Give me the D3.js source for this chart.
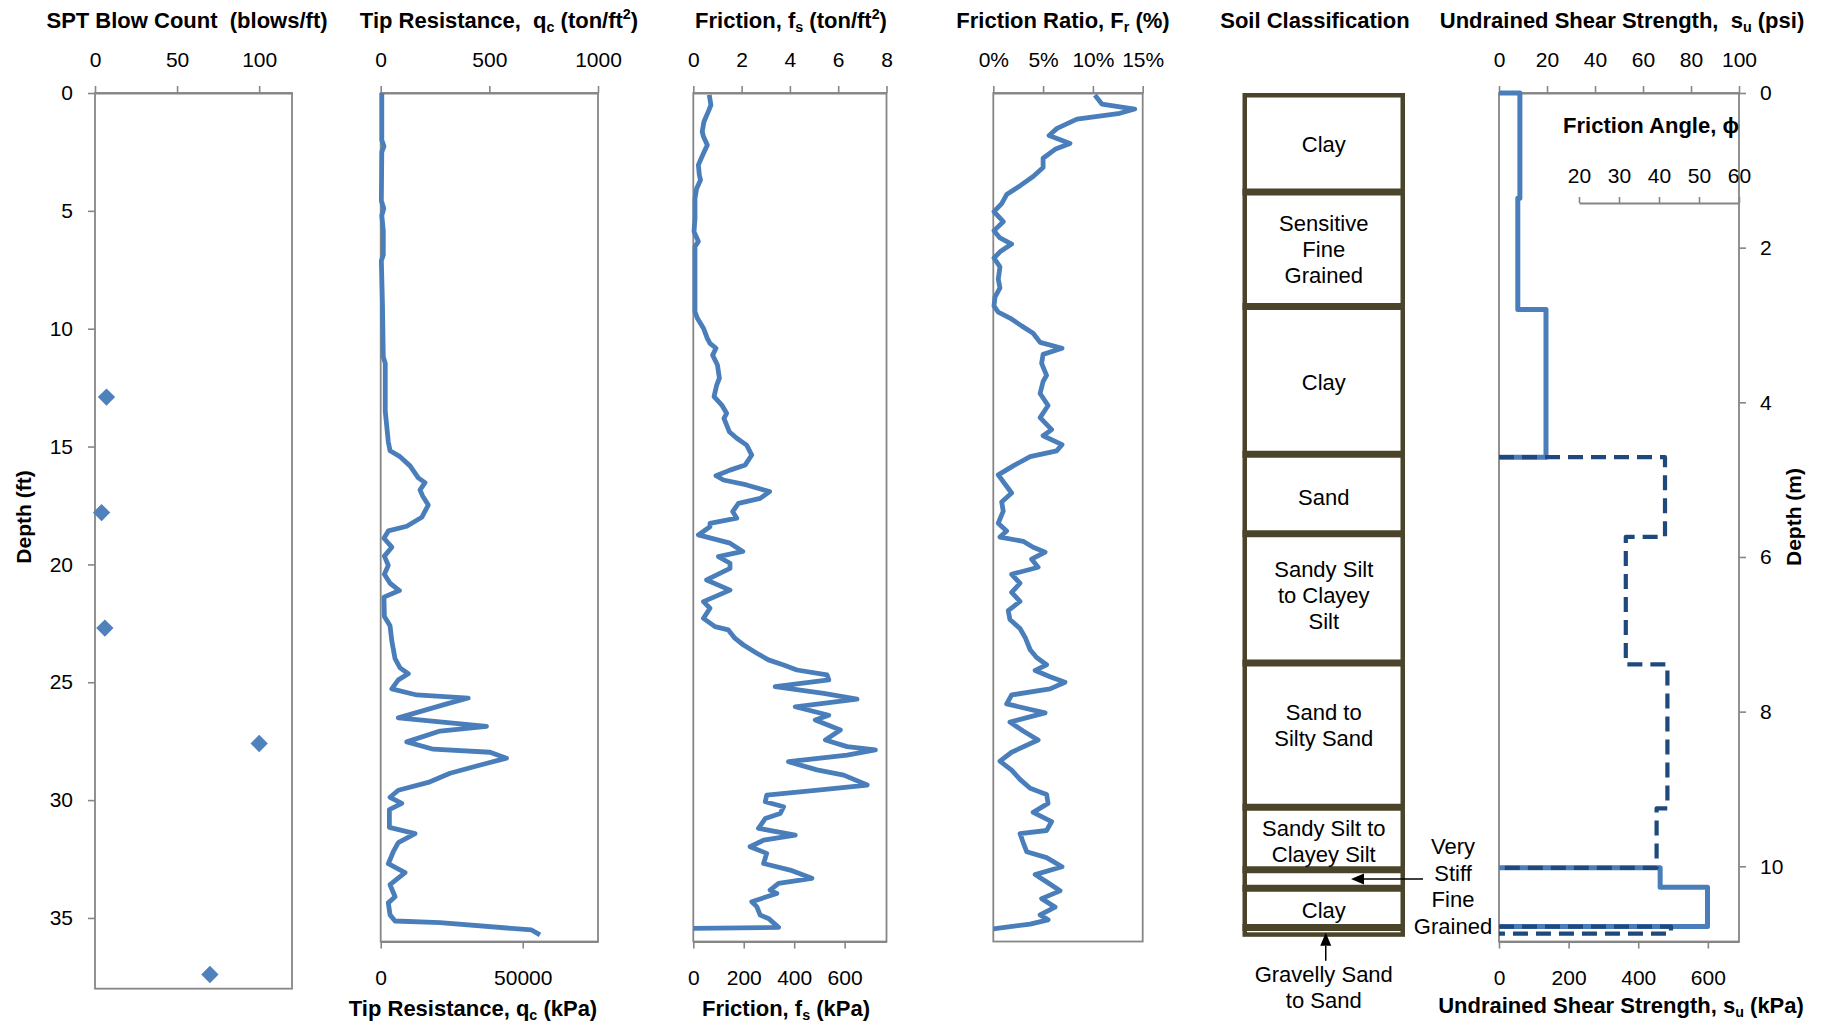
<!DOCTYPE html>
<html>
<head>
<meta charset="utf-8">
<script src="https://cdnjs.cloudflare.com/ajax/libs/d3/7.8.5/d3.min.js"></script>
<style>
  body { margin: 0; background: #fff; }
  svg text { font-family: "Liberation Sans", Arial, sans-serif; fill: #000; white-space: pre; }
</style>
</head>
<body>
<svg id="chart" width="1830" height="1025"></svg>
<script>
// ---- data (depths in ft unless noted) ----
const sptDepth = [12.9, 17.8, 22.7, 27.6, 37.4];
const sptBlows = [7, 4, 6, 100, 70];

const tipDepth = [0, 2.0, 2.26, 2.5, 4.57, 4.9, 5.2, 5.84, 6.87, 7.12, 8.91, 11.2, 11.47, 13.5, 14.8, 15.18,
  15.43, 15.82, 16.33, 16.53, 16.84, 17.1, 17.48, 18.0, 18.38, 18.58, 18.89, 19.27, 19.65, 20.04, 20.42,
  20.8, 21.11, 21.39, 22.21, 22.6, 23.24, 24.0, 24.39, 24.64, 24.9, 25.28, 25.54, 25.67, 25.92, 26.51,
  26.87, 27.07, 27.53, 27.84, 27.97, 28.22, 28.48, 28.86, 29.25, 29.58, 29.88, 30.14, 30.4, 31.16, 31.42,
  31.8, 32.19, 32.7, 33.08, 33.59, 34.1, 34.36, 34.87, 35.13, 35.2, 35.51, 35.72];
const tipTsf = [5, 5, 15, 5, 3, 14, 5, 12, 12, 3, 8, 12, 21, 21, 35, 43,
  89, 135, 173, 204, 181, 193, 219, 189, 120, 35, 15, 51, 17, 35, 17,
  43, 86, 15, 17, 43, 51, 66, 89, 127, 81, 51, 166, 403, 304, 81,
  487, 273, 120, 242, 503, 579, 472, 319, 219, 81, 43, 97, 40, 40, 158,
  81, 58, 35, 112, 43, 66, 35, 43, 66, 273, 694, 733];

const fricDepth = [0.08, 0.51, 0.79, 1.22, 1.64, 1.85, 2.21, 2.63, 3.05, 3.48, 3.69, 4.05, 4.47, 5.32, 5.88,
  6.3, 6.52, 7.0, 8.15, 9.28, 9.56, 9.98, 10.41, 10.62, 10.83, 11.12, 11.54, 12.1, 12.39, 12.88, 13.24,
  13.59, 13.8, 14.37, 14.65, 14.94, 15.36, 15.78, 16.0, 16.24, 16.42, 16.63, 16.91, 17.2, 17.41, 17.76,
  18.04, 18.26, 18.4, 18.75, 19.1, 19.45, 19.67, 19.95, 20.17, 20.66, 21.09, 21.58, 21.86, 22.29, 22.64,
  22.78, 23.14, 23.42, 23.77, 24.05, 24.27, 24.48, 24.69, 24.9, 25.19, 25.47, 25.72, 26.04, 26.4, 26.6,
  27.03, 27.45, 27.73, 27.87, 28.09, 28.37, 28.72, 28.94, 29.36, 29.57, 29.79, 30.07, 30.28, 30.57, 30.78,
  31.2, 31.49, 31.7, 31.98, 32.26, 32.69, 32.97, 33.32, 33.53, 33.82, 33.96, 34.31, 34.52, 34.88, 35.02,
  35.4, 35.44];
const fricTsf = [0.66, 0.73, 0.62, 0.44, 0.37, 0.42, 0.58, 0.39, 0.21, 0.25, 0.30, 0.14, 0.07, 0.07, 0.03,
  0.21, 0.07, 0.07, 0.07, 0.07, 0.17, 0.42, 0.58, 0.69, 0.94, 0.80, 1.00, 1.08, 0.97, 0.86, 1.18,
  1.38, 1.27, 1.49, 1.80, 2.21, 2.42, 2.15, 1.52, 0.94, 1.25, 2.21, 3.16, 2.77, 1.87, 1.63,
  1.80, 0.69, 0.69, 0.21, 1.52, 2.05, 1.04, 1.52, 1.52, 0.55, 1.52, 0.42, 0.69, 0.42, 0.90,
  1.45, 1.73, 2.08, 2.63, 3.11, 3.74, 4.29, 5.54, 5.61, 3.39, 5.40, 6.78, 4.22, 5.61, 5.05,
  6.09, 5.47, 6.37, 7.54, 6.37, 3.94, 5.12, 6.23, 7.20, 5.26, 3.04, 2.98, 3.74, 3.60, 2.98,
  2.70, 4.22, 2.91, 2.35, 3.04, 2.91, 4.01, 4.91, 3.53, 3.18, 3.46, 2.42, 2.63, 2.77, 3.11,
  3.53, 0];

const ratioDepth = [0.09, 0.47, 0.68, 0.86, 1.11, 1.5, 1.8, 2.14, 2.39, 2.77, 3.16, 3.54, 3.93, 4.31, 4.69,
  5.03, 5.46, 5.84, 6.15, 6.41, 6.74, 7.0, 7.38, 7.9, 8.27, 8.66, 9.04, 9.3, 9.55, 9.88, 10.19, 10.58,
  10.83, 11.09, 11.47, 11.98, 12.24, 12.75, 13.26, 13.77, 14.28, 14.54, 14.92, 15.18, 15.43, 15.82, 16.2,
  16.59, 16.97, 17.35, 17.74, 18.25, 18.58, 18.84, 19.02, 19.27, 19.48, 19.78, 20.12, 20.42, 20.8, 21.19,
  21.57, 21.96, 22.34, 22.72, 23.1, 23.62, 23.95, 24.26, 24.5, 24.77, 25.0, 25.28, 25.54, 25.92, 26.3,
  26.69, 27.07, 27.45, 27.97, 28.35, 28.73, 29.12, 29.5, 29.76, 30.14, 30.52, 30.91, 31.29, 31.42, 31.8,
  32.19, 32.44, 32.83, 33.16, 33.47, 33.85, 34.18, 34.54, 34.87, 35.08, 35.26, 35.46];
const ratioPct = [10.2, 10.9, 14.2, 12.7, 8.4, 6.4, 5.6, 7.7, 6.2, 5.0, 5.0, 4.0, 2.7, 1.34, 0.84,
  0.07, 1.0, 0.07, 0.67, 1.84, 0.67, 0.07, 0.67, 0.5, 0.67, 0.17, 0.07, 0.5, 1.67, 2.84, 4.0, 4.7,
  6.9, 5.0, 4.85, 5.35, 5.0, 4.7, 5.5, 4.7, 5.86, 5.0, 6.9, 6.36, 3.7, 2.0, 0.5,
  1.17, 1.84, 0.84, 1.0, 0.5, 1.34, 0.67, 3.0, 4.0, 5.2, 3.85, 4.5, 1.84, 2.68, 1.84,
  2.68, 1.5, 1.67, 2.68, 3.2, 3.7, 4.35, 5.35, 4.2, 5.7, 7.2, 5.7, 1.84, 1.34, 5.2,
  1.67, 3.0, 4.5, 1.84, 0.67, 1.84, 2.68, 3.7, 5.35, 5.5, 4.0, 5.86, 5.35, 2.68, 3.0,
  3.35, 5.35, 6.9, 4.2, 5.35, 6.7, 4.85, 6.2, 4.7, 5.5, 3.7, 0];

const soilTop = [0, 4.2, 9.06, 15.33, 18.7, 24.18, 30.3, 32.95, 33.74, 35.4];
const soilBottom = [4.2, 9.06, 15.33, 18.7, 24.18, 30.3, 32.95, 33.74, 35.4, 35.8];
const soilLabels = [['Clay'], ['Sensitive', 'Fine', 'Grained'], ['Clay'], ['Sand'],
  ['Sandy Silt', 'to Clayey', 'Silt'], ['Sand to', 'Silty Sand'], ['Sandy Silt to', 'Clayey Silt'], [], ['Clay'], []];
const veryStiffLabel = ['Very', 'Stiff', 'Fine', 'Grained'];
const gravellyLabel = ['Gravelly Sand', 'to Sand'];

// undrained shear strength (depth in m, su in kPa)
const suDepthUpper = [0, 0, 1.36, 1.36, 2.80, 2.80, 4.71, 4.71];
const suKpaUpper = [0, 60, 60, 54, 54, 135, 135, 0];
const suDepthLower = [10.02, 10.02, 10.27, 10.27, 10.78, 10.78];
const suKpaLower = [0, 463, 463, 599, 599, 0];
// friction angle (depth in m, degrees)
const phiDepthUpper = [4.71, 4.71, 5.74, 5.74, 7.39, 7.39, 9.25, 9.25, 10.02, 10.02];
const phiDegUpper = [0, 41.5, 41.5, 31.7, 31.7, 42.1, 42.1, 39.4, 39.4, 0];
const phiDepthLower = [10.78, 10.78, 10.87, 10.87];
const phiDegLower = [0, 43, 43, 0];

const depthTicksFt = [0, 5, 10, 15, 20, 25, 30, 35];
const depthTicksM = [0, 2, 4, 6, 8, 10];

// ---- layout ----
const AXIS_GREY = '#868686';
const LINE_BLUE = '#4A7EBB';
const DASH_BLUE = '#1F497D';
const SOIL_EDGE = '#4A452A';
const TOP = 93;
const PX_PER_FT = 23.57;
const CURVE_W = 4.8;

const svg = d3.select('#chart');

const yFt = d3.scaleLinear().domain([0, 36]).range([TOP, TOP + 36 * PX_PER_FT]);
const ySpt = d3.scaleLinear().domain([0, 38]).range([TOP, TOP + 38 * PX_PER_FT]);
const yM = d3.scaleLinear().domain([0, 36 * 0.3048]).range(yFt.range());
const BOTTOM = yFt.range()[1];

const xSpt = d3.scaleLinear().domain([0, 120]).range([95, 292]);
const xTip = d3.scaleLinear().domain([0, 1000]).range([380.7, 598]);
const xTipKpa = d3.scaleLinear().domain([0, 76500]).range(xTip.range());
const xFric = d3.scaleLinear().domain([0, 8]).range([693.3, 886.5]);
const xFricKpa = d3.scaleLinear().domain([0, 766]).range(xFric.range());
const xRatio = d3.scaleLinear().domain([0, 15]).range([993.3, 1142.7]);
const soilX = [1242.5, 1405];
const xSuPsi = d3.scaleLinear().domain([0, 100]).range([1499, 1739]);
const xSuKpa = d3.scaleLinear().domain([0, 689.5]).range(xSuPsi.range());
const xPhi = d3.scaleLinear().domain([0, 60]).range(xSuPsi.range());

const styleAxis = (g, size = 21) => {
    g.attr('font-family', null).attr('font-size', null);
    g.select('.domain').attr('stroke', AXIS_GREY).attr('stroke-width', 1.8);
    g.selectAll('.tick line').attr('stroke', AXIS_GREY).attr('stroke-width', 1.6);
    g.selectAll('.tick text').style('font-size', `${size}px`).attr('fill', '#000');
    return g;
};

const frame = (x, y) => {
    const [x0, x1] = x.range();
    const [y0, y1] = y.range();
    svg.append('rect')
        .attr('x', x0).attr('y', y0)
        .attr('width', x1 - x0).attr('height', y1 - y0)
        .attr('fill', 'none')
        .attr('stroke', AXIS_GREY)
        .attr('stroke-width', 1.8);
};

const topAxis = (x, ticks, fmt = d3.format('d'), y = TOP, pad = 19, size = 7) => {
    svg.append('g')
        .attr('transform', `translate(0,${y})`)
        .call(d3.axisTop(x).tickValues(ticks).tickSize(size).tickSizeOuter(0).tickPadding(pad).tickFormat(fmt))
        .call(styleAxis);
};

const bottomAxis = (x, ticks) => {
    svg.append('g')
        .attr('transform', `translate(0,${BOTTOM})`)
        .call(d3.axisBottom(x).tickValues(ticks).tickSize(7).tickSizeOuter(0).tickPadding(22).tickFormat(d3.format('d')))
        .call(styleAxis);
};

// text with sub/superscripts: parts are strings or [string, 'sub'|'sup']
const richText = (x, y, parts, size, weight = 'bold', anchor = 'middle', rotate = 0) => {
    const t = svg.append('text')
        .attr('text-anchor', anchor)
        .attr('transform', `translate(${x},${y}) rotate(${rotate})`)
        .style('font-size', `${size}px`)
        .style('font-weight', weight);
    let shift = 0;
    parts.forEach(p => {
        const [str, kind] = typeof p === 'string' ? [p, null] : p;
        const target = kind === 'sub' ? 0.2 * size : kind === 'sup' ? -0.4 * size : 0;
        t.append('tspan')
            .attr('dy', target - shift)
            .style('font-size', kind ? `${size * 0.65}px` : null)
            .text(str);
        shift = target;
    });
    return t;
};

const drawProfile = (x, y, depths, values, color, width, dash) => {
    const pts = d3.zip(depths, values);
    svg.append('path')
        .attr('d', d3.line().x(d => x(d[1])).y(d => y(d[0]))(pts))
        .attr('fill', 'none')
        .attr('stroke', color)
        .attr('stroke-width', width)
        .attr('stroke-linejoin', 'round')
        .attr('stroke-dasharray', dash || null);
};

// ---- titles ----
const TITLE = 22;
const titleY = 27.5;
richText(187, titleY, ['SPT Blow Count  (blows/ft)'], TITLE);
richText(499, titleY, ['Tip Resistance,  q', ['c', 'sub'], ' (ton/ft', ['2', 'sup'], ')'], TITLE);
richText(791, titleY, ['Friction, f', ['s', 'sub'], ' (ton/ft', ['2', 'sup'], ')'], TITLE);
richText(1063, titleY, ['Friction Ratio, F', ['r', 'sub'], ' (%)'], TITLE);
richText(1315, titleY, ['Soil Classification'], TITLE);
richText(1622, titleY, ['Undrained Shear Strength,  s', ['u', 'sub'], ' (psi)'], TITLE);

const bottomTitleY = 1016;
richText(473, bottomTitleY, ['Tip Resistance, q', ['c', 'sub'], ' (kPa)'], TITLE);
richText(786, bottomTitleY, ['Friction, f', ['s', 'sub'], ' (kPa)'], TITLE);
richText(1621, 1013, ['Undrained Shear Strength, s', ['u', 'sub'], ' (kPa)'], TITLE);

richText(31, 517, ['Depth (ft)'], 21, 'bold', 'middle', -90);
richText(1801, 517, ['Depth (m)'], 21, 'bold', 'middle', -90);

// ---- SPT panel ----
frame(xSpt, ySpt);
topAxis(xSpt, [0, 50, 100]);
svg.append('g')
    .attr('transform', `translate(${xSpt.range()[0]},0)`)
    .call(d3.axisLeft(yFt).tickValues(depthTicksFt).tickSize(7).tickSizeOuter(0).tickPadding(15))
    .call(styleAxis)
    .select('.domain').remove();

svg.selectAll('.spt')
    .data(d3.zip(sptDepth, sptBlows))
    .join('path')
    .attr('class', 'spt')
    .attr('transform', d => `translate(${xSpt(d[1])},${ySpt(d[0])}) rotate(45)`)
    .attr('d', d3.symbol(d3.symbolSquare, 150))
    .attr('fill', '#4F81BD');

// ---- tip resistance ----
frame(xTip, yFt);
topAxis(xTip, [0, 500, 1000]);
bottomAxis(xTipKpa, [0, 50000]);
drawProfile(xTip, yFt, tipDepth, tipTsf, LINE_BLUE, CURVE_W);

// ---- friction ----
frame(xFric, yFt);
topAxis(xFric, [0, 2, 4, 6, 8]);
bottomAxis(xFricKpa, [0, 200, 400, 600]);
drawProfile(xFric, yFt, fricDepth, fricTsf, LINE_BLUE, CURVE_W);

// ---- friction ratio ----
frame(xRatio, yFt);
topAxis(xRatio, [0, 5, 10, 15], d => `${d}%`);
drawProfile(xRatio, yFt, ratioDepth, ratioPct, LINE_BLUE, CURVE_W);

// ---- soil classification ----
const layers = d3.range(soilTop.length).map(i => ({
    top: soilTop[i], bottom: soilBottom[i], lines: soilLabels[i]
}));
const OUTER_W = 4.5;
const SEP_W = 7;
svg.append('rect')
    .attr('x', soilX[0] + OUTER_W / 2)
    .attr('y', yFt(soilTop[0]) + OUTER_W / 2)
    .attr('width', soilX[1] - soilX[0] - OUTER_W)
    .attr('height', yFt(soilBottom[soilBottom.length - 1]) - yFt(soilTop[0]) - OUTER_W)
    .attr('fill', '#fff')
    .attr('stroke', SOIL_EDGE)
    .attr('stroke-width', OUTER_W);
svg.selectAll('.soil-sep')
    .data(soilTop.slice(1))
    .join('line')
    .attr('class', 'soil-sep')
    .attr('x1', soilX[0])
    .attr('x2', soilX[1])
    .attr('y1', d => yFt(d))
    .attr('y2', d => yFt(d))
    .attr('stroke', SOIL_EDGE)
    .attr('stroke-width', SEP_W);

const LABEL = 22;
const LINE_H = 25.7;
const soilMid = (soilX[0] + soilX[1]) / 2;
// label nudges (px) so text sits where the original placed it
const labelNudge = [2, 0, 2, 3, -3, -10, 3, 0, 2, 0];
layers.forEach((layer, i) => {
    const cy = yFt((layer.top + layer.bottom) / 2) + labelNudge[i];
    layer.lines.forEach((line, j) => {
        const y = cy + (j - (layer.lines.length - 1) / 2) * LINE_H + LABEL * 0.35;
        richText(soilMid, y, [line], LABEL, 'normal');
    });
});

// annotation arrows
const arrow = (x1, y1, x2, y2) => {
    const ang = Math.atan2(y2 - y1, x2 - x1);
    const len = 13, half = 5.5;
    const bx = x2 - len * Math.cos(ang), by = y2 - len * Math.sin(ang);
    svg.append('line')
        .attr('x1', x1).attr('y1', y1).attr('x2', bx).attr('y2', by)
        .attr('stroke', '#000').attr('stroke-width', 1.5);
    svg.append('path')
        .attr('d', d3.line()([
            [x2, y2],
            [bx + half * Math.sin(ang), by - half * Math.cos(ang)],
            [bx - half * Math.sin(ang), by + half * Math.cos(ang)]
        ]) + 'Z')
        .attr('fill', '#000');
};
const stiffY = yFt((soilTop[7] + soilBottom[7]) / 2);
arrow(1423, stiffY, 1351, stiffY);
veryStiffLabel.forEach((line, j) => {
    richText(1453, 846.5 + j * 26.6 + LABEL * 0.35, [line], LABEL, 'normal');
});
const gravelY = yFt(soilBottom[9]);
arrow(soilMid + 2, gravelY + 24, soilMid + 2, gravelY - 4);
gravellyLabel.forEach((line, j) => {
    richText(soilMid, 974.5 + j * 25.7 + LABEL * 0.35, [line], LABEL, 'normal');
});

// ---- undrained shear strength ----
frame(xSuPsi, yFt);
topAxis(xSuPsi, [0, 20, 40, 60, 80, 100]);
bottomAxis(xSuKpa, [0, 200, 400, 600]);
svg.append('g')
    .attr('transform', `translate(${xSuPsi.range()[1]},0)`)
    .call(d3.axisRight(yM).tickValues(depthTicksM).tickSize(7).tickSizeOuter(0).tickPadding(14))
    .call(styleAxis)
    .select('.domain').remove();

// friction angle inset axis
const phiAxisY = 203;
const phiAxis = d3.scaleLinear().domain([20, 60]).range([xPhi(20), xPhi(60)]);
topAxis(phiAxis, [20, 30, 40, 50, 60], d3.format('d'), phiAxisY, 14, 6);
richText((xPhi(20) + xPhi(60)) / 2 - 8, 133, ['Friction Angle, \u03D5'], TITLE);

drawProfile(xSuKpa, yM, suDepthUpper, suKpaUpper, LINE_BLUE, 5);
drawProfile(xSuKpa, yM, suDepthLower, suKpaLower, LINE_BLUE, 5);
drawProfile(xPhi, yM, phiDepthUpper, phiDegUpper, DASH_BLUE, 4.2, '15,8');
drawProfile(xPhi, yM, phiDepthLower, phiDegLower, DASH_BLUE, 4.2, '15,8');
</script>
</body>
</html>
